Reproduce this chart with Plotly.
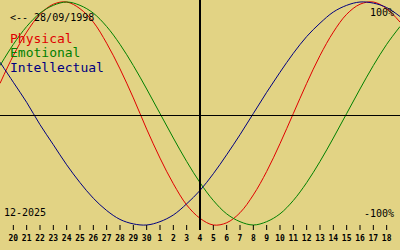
import plotly.graph_objects as go

# ---- data ----
birth_label = "<-- 28/09/1998"
month_label = "12-2025"
day_offsets = list(range(-15, 16))  # days relative to 4 Dec 2025
tick_offsets = list(range(-14, 15))
tick_labels = ["20", "21", "22", "23", "24", "25", "26", "27", "28", "29", "30",
               "1", "2", "3", "4", "5", "6", "7", "8", "9", "10", "11", "12",
               "13", "14", "15", "16", "17", "18"]
physical = [0.27, 0.52, 0.73, 0.89, 0.98, 1.00, 0.94, 0.82, 0.63, 0.40, 0.14,
            -0.14, -0.40, -0.63, -0.82, -0.94, -1.00, -0.98, -0.89, -0.73, -0.52,
            -0.27, 0.00, 0.27, 0.52, 0.73, 0.89, 0.98, 1.00, 0.94, 0.82]
emotional = [0.43, 0.62, 0.78, 0.90, 0.97, 1.00, 0.97, 0.90, 0.78, 0.62, 0.43,
             0.22, 0.00, -0.22, -0.43, -0.62, -0.78, -0.90, -0.97, -1.00, -0.97,
             -0.90, -0.78, -0.62, -0.43, -0.22, 0.00, 0.22, 0.43, 0.62, 0.78]
intellectual = [0.46, 0.28, 0.10, -0.10, -0.28, -0.46, -0.62, -0.76, -0.87, -0.95,
                -0.99, -1.00, -0.97, -0.91, -0.81, -0.69, -0.54, -0.37, -0.19, 0.00,
                0.19, 0.37, 0.54, 0.69, 0.81, 0.91, 0.97, 1.00, 0.99, 0.95, 0.87]

# ---- geometry helpers ----
W, H = 400, 250
PX_PER_UNIT = 111.5
TOP_PX = 2.0
YMAX = 1 + TOP_PX / PX_PER_UNIT
YMIN = YMAX - H / PX_PER_UNIT


def ypx(py):
    return YMAX - py / PX_PER_UNIT


BG = "#E2D384"
MONO = "DejaVu Sans Mono"

fig = go.Figure()
for vals, col in [(physical, "#E00000"), (emotional, "#008000"), (intellectual, "#000080")]:
    fig.add_trace(go.Scatter(x=day_offsets, y=vals, mode="lines",
                             line=dict(color=col, width=1, shape="spline"),
                             hoverinfo="skip", showlegend=False))

fig.add_trace(go.Scatter(x=tick_offsets, y=[ypx(239)] * len(tick_offsets),
                         mode="text", text=tick_labels,
                         textfont=dict(family=MONO, size=8, color="black", weight="bold"),
                         hoverinfo="skip", showlegend=False))

shapes = [
    dict(type="line", xref="x", yref="y", x0=-15, x1=15, y0=ypx(115.5), y1=ypx(115.5),
         line=dict(color="black", width=1)),
    dict(type="line", xref="x", yref="y", x0=0, x1=0, y0=YMAX, y1=ypx(230),
         line=dict(color="black", width=2)),
]
for t in tick_offsets:
    shapes.append(dict(type="line", xref="x", yref="y", x0=t, x1=t,
                       y0=ypx(225), y1=ypx(230), line=dict(color="black", width=1)))

def ann(text, x, yc, size, color, anchor="left"):
    return dict(text=text, x=x / W, y=1 - yc / H, xref="paper", yref="paper",
                xanchor=anchor, yanchor="middle", showarrow=False,
                font=dict(family=MONO, size=size, color=color), borderpad=0)

annotations = [
    ann(birth_label, 9, 17, 10, "black"),
    ann("Physical", 9, 38, 13, "#E00000"),
    ann("Emotional", 9, 52.5, 13, "#008000"),
    ann("Intellectual", 9, 67.5, 13, "#000080"),
    ann("100%", 395, 12.5, 10, "black", "right"),
    ann("-100%", 395, 213, 10, "black", "right"),
    ann(month_label, 3, 212, 10, "black"),
]

fig.update_layout(
    width=W, height=H, margin=dict(l=0, r=0, t=0, b=0),
    paper_bgcolor=BG, plot_bgcolor=BG,
    xaxis=dict(range=[-15, 15], visible=False, fixedrange=True),
    yaxis=dict(range=[YMIN, YMAX], visible=False, fixedrange=True),
    shapes=shapes, annotations=annotations, showlegend=False,
)

fig.write_html("out.html", config={"displayModeBar": False})
